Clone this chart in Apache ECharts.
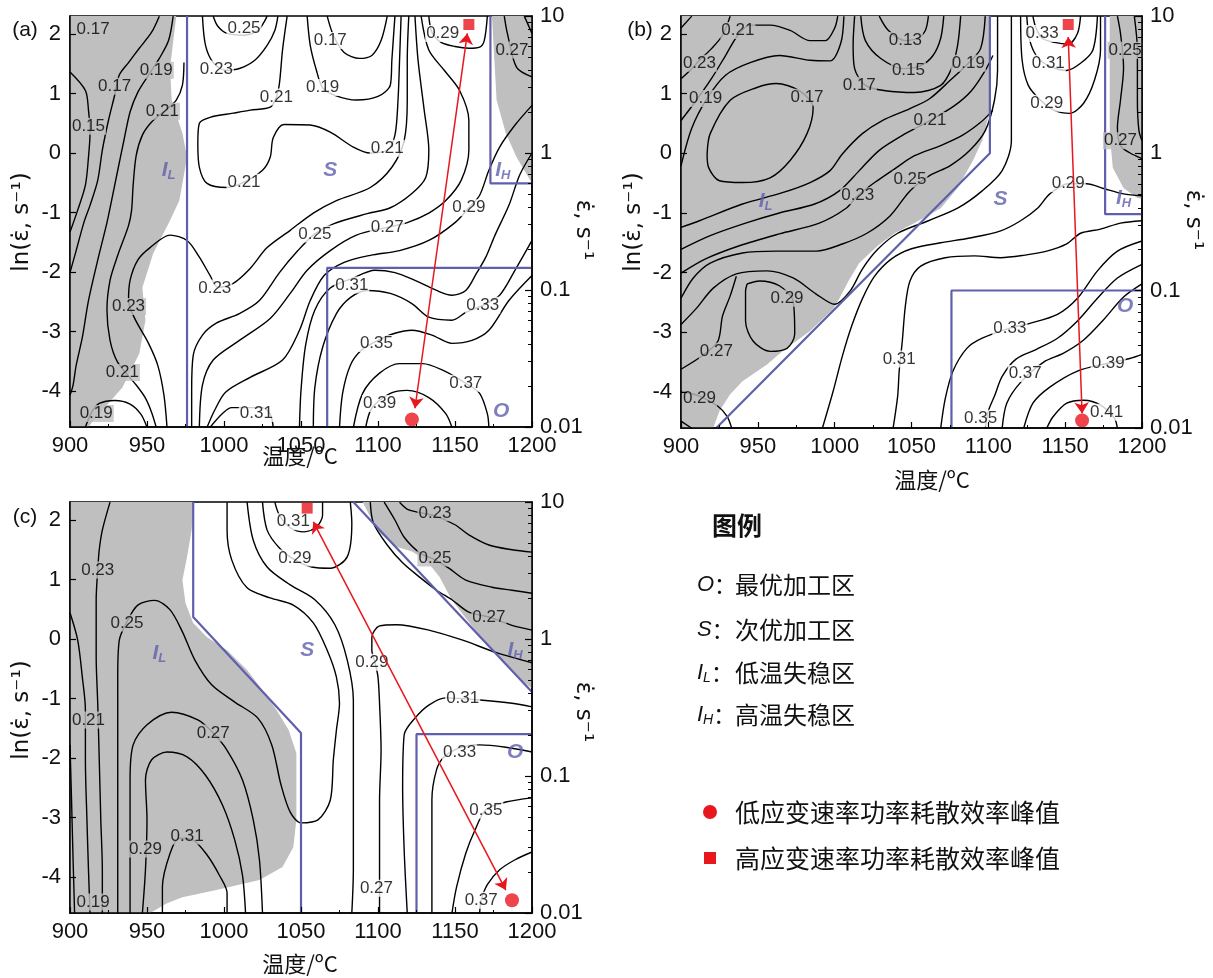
<!DOCTYPE html>
<html>
<head>
<meta charset="utf-8">
<script src="https://cdn.jsdelivr.net/npm/echarts@6/dist/echarts.min.js"></script>
<style>
html,body{margin:0;padding:0;background:#fff}
#chart{width:1213px;height:978px}
</style>
</head>
<body>
<div id="chart"></div>
<script>
// ---------- axes ----------
const LN_MIN = Math.log(0.01), LN_MAX = Math.log(10);
const lnTicks = [-4, -3, -2, -1, 0, 1, 2];
const rateTicks = [0.01, 0.1, 1, 10];
const rateLabels = ['0.01', '0.1', '1', '10'];
const rateMinor = [0.02,0.03,0.04,0.05,0.06,0.07,0.08,0.09,0.2,0.3,0.4,0.5,0.6,0.7,0.8,0.9,2,3,4,5,6,7,8,9];

// ---------- panel (a) : [T (°C), ln(rate)] ----------
const aGreyL = [[900,2.303],[969,2.303],[965,1.44],[966,0.89],[973,0.33],[976,-0.07],[971,-0.80],[965,-1.13],[954,-1.69],[947,-2.26],[949,-2.81],[945,-3.37],[934,-3.94],[915,-4.50],[912,-4.605],[900,-4.605]];
const aGreyH = [[1174,2.303],[1177,0.89],[1183,0.33],[1190,-0.07],[1200,-0.51],[1200,2.303]];
const aBounds = [
  [[976,2.303],[976,-4.605]],
  [[1173,2.303],[1173,-0.51],[1200,-0.51]],
  [[1200,-1.93],[1067,-1.93],[1067,-4.605]]
];
const aContours = [
  [[900,1.36],[910,1.05],[912,0.72],[913,0.33],[912,-0.07],[910,-0.54],[905,-0.96],[900,-1.33]],
  [[958,2.30],[953,2.03],[945,1.76],[938,1.52],[932,1.31],[929,0.97],[925,0.55],[921,0.05],[918,-0.46],[913,-0.88],[909,-1.17],[904,-1.64],[900,-2.01]],
  [[967,2.30],[964,1.89],[958,1.59],[951,1.31],[944,1.02],[939,0.69],[935,0.21],[931,-0.29],[927,-0.80],[924,-1.17],[918,-1.80],[912,-2.48],[908,-3.10],[904,-3.57],[902,-3.90],[900,-4.07]],
  [[974,1.52],[973,1.14],[969,0.89],[962,0.72],[953,0.52],[947,0.30],[943,-0.04],[941,-0.54],[940,-0.96],[938,-1.22],[931,-1.72],[926,-2.14],[924,-2.64],[926,-3.15],[931,-3.52],[943,-3.90],[949,-4.12],[953,-4.36],[956,-4.61]],
  [[910,-4.61],[914,-4.36],[919,-4.21],[929,-4.16],[939,-4.22],[946,-4.39],[950,-4.61]],
  [[963,-4.61],[961,-4.07],[957,-3.57],[951,-3.20],[942,-2.78],[938,-2.48],[939,-2.14],[944,-1.80],[952,-1.59],[965,-1.38],[976,-1.47],[984,-1.75],[991,-2.06],[996,-2.26],[1006,-2.19],[1017,-1.94],[1028,-1.59],[1043,-1.30],[1058,-1.01],[1073,-0.80],[1095,-0.58],[1109,-0.24],[1117,0.21],[1119,0.89],[1119,1.56],[1120,2.30]],
  [[993,2.30],[996,2.13],[1002,2.01],[1013,1.98],[1022,2.06],[1026,2.20],[1028,2.30]],
  [[986,2.30],[988,1.81],[993,1.52],[1001,1.39],[1010,1.42],[1020,1.56],[1028,1.81],[1033,2.06],[1035,2.30]],
  [[1041,2.30],[1038,1.73],[1036,1.17],[1034,0.94],[1030,0.77],[1017,0.72],[1006,0.67],[991,0.60],[984,0.50],[983,0.16],[984,-0.24],[989,-0.51],[1002,-0.58],[1013,-0.49],[1025,-0.29],[1030,-0.07],[1032,0.26],[1039,0.48],[1056,0.47],[1069,0.35],[1084,0.10],[1095,0.00],[1106,0.05],[1111,0.30],[1113,0.89],[1114,1.56],[1115,2.30]],
  [[1054,2.30],[1056,1.81],[1060,1.39],[1064,1.10],[1072,0.97],[1086,0.89],[1100,0.95],[1108,1.14],[1109,1.56],[1111,2.30]],
  [[1067,2.30],[1071,1.98],[1078,1.69],[1088,1.59],[1096,1.64],[1102,1.89],[1106,2.30]],
  [[1124,2.30],[1126,1.56],[1130,0.72],[1133,0.05],[1131,-0.41],[1122,-0.68],[1108,-0.92],[1093,-1.02],[1071,-1.19],[1059,-1.36],[1048,-1.64],[1036,-2.01],[1023,-2.48],[1010,-2.70],[995,-2.86],[986,-3.06],[980,-3.40],[979,-3.99],[979,-4.61]],
  [[1128,2.30],[1133,1.73],[1143,1.39],[1153,1.05],[1159,0.55],[1159,0.05],[1154,-0.46],[1144,-0.80],[1133,-1.01],[1119,-1.17],[1106,-1.25],[1086,-1.38],[1069,-1.64],[1054,-1.97],[1043,-2.36],[1030,-2.78],[1010,-3.15],[993,-3.48],[986,-3.90],[984,-4.61]],
  [[1133,2.30],[1135,2.03],[1141,1.86],[1150,1.79],[1159,1.76],[1166,1.78],[1169,1.89],[1171,2.30]],
  [[1200,0.80],[1189,0.47],[1179,0.10],[1172,-0.29],[1166,-0.71],[1159,-0.92],[1150,-1.17],[1133,-1.47],[1114,-1.64],[1095,-1.72],[1078,-1.84],[1065,-2.06],[1056,-2.48],[1049,-2.98],[1038,-3.48],[1017,-3.77],[1001,-4.02],[994,-4.32],[989,-4.61]],
  [[991,-4.61],[999,-4.38],[1005,-4.28],[1025,-4.28],[1030,-4.39],[1032,-4.61]],
  [[1049,-4.61],[1050,-3.99],[1053,-3.23],[1059,-2.64],[1069,-2.27],[1083,-2.11],[1098,-1.97],[1111,-2.01],[1124,-2.14],[1138,-2.31],[1148,-2.39],[1157,-2.31],[1164,-2.02],[1170,-1.75],[1176,-1.38],[1185,-0.88],[1192,-0.37],[1200,0.00]],
  [[1058,-4.61],[1059,-3.94],[1064,-3.27],[1073,-2.70],[1082,-2.43],[1093,-2.31],[1108,-2.36],[1122,-2.53],[1133,-2.76],[1148,-2.81],[1157,-2.68],[1168,-2.56],[1179,-2.39],[1189,-1.97],[1200,-1.47]],
  [[1075,-4.61],[1077,-4.04],[1082,-3.57],[1089,-3.32],[1100,-3.15],[1111,-3.03],[1122,-2.98],[1135,-3.06],[1148,-3.20],[1161,-3.15],[1172,-2.98],[1185,-2.48],[1200,-2.06]],
  [[1084,-4.61],[1090,-4.04],[1101,-3.70],[1114,-3.54],[1129,-3.54],[1142,-3.65],[1157,-3.87],[1166,-4.04],[1171,-4.38],[1172,-4.61]],
  [[1092,-4.61],[1096,-4.29],[1108,-4.04],[1119,-3.99],[1133,-4.11],[1144,-4.38],[1148,-4.61]],
  [[1182,2.30],[1184,2.01],[1190,1.44],[1200,1.28]],
  [[1195,2.30],[1200,2.01]]
];
const aLabGrey = [[915,2.08,'0.17'],[956,1.39,'0.19'],[929,1.12,'0.17'],[960,0.70,'0.21'],[912,0.45,'0.15'],[938,-2.58,'0.23'],[934,-3.69,'0.21'],[917,-4.38,'0.19'],[1187,1.73,'0.27']];
const aLabWhite = [[1013,2.10,'0.25'],[1069,1.89,'0.17'],[1142,2.01,'0.29'],[995,1.41,'0.23'],[1064,1.10,'0.19'],[1034,0.94,'0.21'],[1106,0.08,'0.21'],[1013,-0.49,'0.21'],[1159,-0.92,'0.29'],[1059,-1.36,'0.25'],[1106,-1.25,'0.27'],[994,-2.27,'0.23'],[1083,-2.22,'0.31'],[1168,-2.56,'0.33'],[1099,-3.20,'0.35'],[1157,-3.87,'0.37'],[1101,-4.21,'0.39'],[1021,-4.38,'0.31']];
const aRegions = [[964,-0.29,'I','L'],[1069,-0.29,'S',''],[1181,-0.29,'I','H'],[1180,-4.34,'O','']];
const aCircle = [1122,-4.48], aSquare = [1159,2.16], aArrow = [[1124,-4.29],[1158,2.01]];

// ---------- panel (b) ----------
const bGreyL = [[900,2.303],[1101,2.303],[1101,0.72],[1096,0.21],[1090,-0.12],[1080,-0.58],[1069,-0.92],[1052,-1.17],[1039,-1.34],[1028,-1.55],[1016,-1.84],[1009,-2.14],[1003,-2.44],[999,-2.61],[984,-2.98],[966,-3.32],[956,-3.54],[940,-3.82],[932,-4.04],[925,-4.32],[921,-4.605],[900,-4.605]];
const bGreyH = [[1179,2.303],[1179,0.33],[1181,-0.24],[1188,-0.58],[1197,-0.75],[1200,-0.76],[1200,2.303]];
const bBounds = [
  [[1101,2.303],[1101,0],[923,-4.605]],
  [[1176,2.303],[1176,-1.02],[1200,-1.02]],
  [[1076,-4.605],[1076,-2.30],[1200,-2.30]]
];
const bContours = [
  [[900,-1.24],[912,-1.13],[940,-0.85],[966,-0.66],[984,-0.49],[997,-0.29],[1005,-0.01],[1018,0.33],[1031,0.55],[1049,0.75],[1062,0.92],[1075,1.22],[1087,1.51],[1095,1.76],[1098,2.30]],
  [[900,-1.61],[919,-1.38],[942,-1.17],[964,-1.00],[987,-0.85],[1003,-0.63],[1016,-0.29],[1029,0.05],[1046,0.33],[1062,0.55],[1078,0.80],[1089,1.05],[1098,1.39],[1103,1.64]],
  [[900,-2.01],[916,-1.77],[938,-1.55],[964,-1.35],[990,-1.17],[1007,-0.93],[1015,-0.71],[1026,-0.49],[1039,-0.26],[1052,-0.04],[1069,0.13],[1083,0.30],[1095,0.52],[1103,0.72]],
  [[900,-2.43],[908,-2.09],[919,-1.84],[940,-1.67],[962,-1.64],[988,-1.64],[1005,-1.52],[1021,-1.34],[1036,-1.05],[1049,-0.63],[1062,-0.37],[1075,-0.21],[1088,0.05],[1098,0.38],[1104,0.89],[1106,1.39],[1106,2.30]],
  [[900,-2.87],[910,-2.60],[921,-2.26],[936,-2.02],[956,-1.97],[973,-2.09],[988,-2.36],[1000,-2.53],[1010,-2.31],[1018,-1.94],[1028,-1.61],[1041,-1.34],[1061,-1.13],[1080,-0.92],[1096,-0.63],[1109,-0.29],[1115,0.21],[1115,0.89],[1115,2.30]],
  [[943,-2.19],[951,-2.14],[964,-2.22],[973,-2.48],[974,-3.03],[969,-3.27],[958,-3.32],[947,-3.15],[942,-2.81],[942,-2.31],[943,-2.19]],
  [[900,-3.62],[914,-3.39],[924,-3.15],[927,-2.73],[932,-2.39],[936,-2.06]],
  [[900,-3.99],[912,-4.07],[924,-4.24],[930,-4.41],[933,-4.61]],
  [[900,-4.49],[907,-4.61]],
  [[900,-0.21],[907,0.42],[917,0.92],[929,1.31],[945,1.52],[964,1.64],[984,1.56],[997,1.55],[1004,1.85],[1006,2.30]],
  [[900,0.55],[910,0.89],[920,1.26],[929,1.64],[937,1.98],[945,2.15],[958,2.15],[971,2.06],[984,1.89],[994,1.89],[1000,2.10],[1002,2.30]],
  [[900,1.25],[907,1.42],[912,1.56],[920,1.76],[927,1.98],[932,2.30]],
  [[900,2.10],[907,2.30]],
  [[917,-0.01],[919,0.33],[932,0.89],[949,1.10],[962,1.17],[977,1.05],[986,0.77],[982,0.33],[971,-0.12],[958,-0.41],[940,-0.49],[925,-0.46],[918,-0.24],[917,-0.01]],
  [[1013,2.30],[1012,1.81],[1013,1.42],[1020,1.14],[1033,1.05],[1052,1.02],[1069,1.14],[1076,1.42],[1080,1.81],[1082,2.30]],
  [[1017,2.30],[1020,1.89],[1030,1.59],[1045,1.42],[1056,1.47],[1064,1.64],[1069,1.93],[1071,2.30]],
  [[1029,2.30],[1035,2.06],[1046,1.89],[1054,1.93],[1059,2.06],[1061,2.30]],
  [[1129,2.30],[1131,2.10],[1135,1.93],[1143,1.86],[1152,1.83],[1158,2.01],[1160,2.30]],
  [[1125,2.30],[1127,1.89],[1132,1.61],[1140,1.46],[1151,1.39],[1160,1.51],[1168,1.73],[1171,2.30]],
  [[1121,2.30],[1122,1.56],[1126,1.14],[1134,0.89],[1143,0.72],[1153,0.67],[1162,0.84],[1169,1.22],[1173,1.73],[1173,2.30]],
  [[1200,-0.71],[1188,-0.68],[1175,-0.59],[1164,-0.51],[1152,-0.51],[1140,-0.68],[1132,-0.92],[1121,-1.13],[1108,-1.30],[1088,-1.42],[1069,-1.50],[1050,-1.60],[1037,-1.77],[1026,-2.06],[1018,-2.44],[1011,-2.90],[1005,-3.40],[999,-3.99],[992,-4.61]],
  [[1038,-4.61],[1041,-4.07],[1042,-3.65],[1044,-3.15],[1046,-2.56],[1049,-2.14],[1056,-1.89],[1072,-1.75],[1091,-1.72],[1108,-1.75],[1123,-1.71],[1138,-1.64],[1151,-1.52],[1160,-1.34],[1173,-1.27],[1186,-1.17],[1200,-1.13]],
  [[1184,2.30],[1186,2.01],[1188,1.44],[1186,0.89],[1184,0.43],[1186,0.13],[1192,0.01],[1200,-0.09]],
  [[1195,2.30],[1197,1.73],[1197,0.89],[1198,0.38],[1200,0.21]],
  [[1069,-4.61],[1072,-4.11],[1077,-3.65],[1086,-3.27],[1096,-3.10],[1114,-2.93],[1127,-2.85],[1145,-2.70],[1158,-2.43],[1171,-1.97],[1184,-1.64],[1200,-1.47]],
  [[1098,-4.61],[1100,-4.32],[1104,-4.07],[1109,-3.74],[1118,-3.45],[1131,-3.29],[1145,-3.10],[1158,-2.81],[1171,-2.43],[1184,-2.09],[1200,-1.86]],
  [[1109,-4.61],[1112,-4.19],[1121,-3.84],[1136,-3.50],[1149,-3.35],[1162,-3.13],[1175,-2.79],[1188,-2.41],[1200,-2.19]],
  [[1123,-4.61],[1129,-4.19],[1140,-3.92],[1158,-3.65],[1178,-3.52],[1192,-3.44],[1200,-3.37]],
  [[1138,-4.61],[1142,-4.42],[1151,-4.19],[1162,-4.14],[1173,-4.22],[1182,-4.44],[1184,-4.61]]
];
const bLabGrey = [[937,2.06,'0.21'],[912,1.51,'0.23'],[916,0.92,'0.19'],[982,0.94,'0.17'],[1016,1.14,'0.17'],[1046,1.89,'0.13'],[1048,1.39,'0.15'],[1087,1.51,'0.19'],[1062,0.55,'0.21'],[1015,-0.71,'0.23'],[1049,-0.43,'0.25'],[969,-2.43,'0.29'],[923,-3.32,'0.27'],[912,-4.11,'0.29'],[1189,1.73,'0.25'],[1186,0.21,'0.27']];
const bLabWhite = [[1135,2.01,'0.33'],[1139,1.51,'0.31'],[1138,0.84,'0.29'],[1152,-0.51,'0.29'],[1042,-3.45,'0.31'],[1114,-2.93,'0.33'],[1124,-3.69,'0.37'],[1178,-3.52,'0.39'],[1095,-4.44,'0.35'],[1177,-4.34,'0.41']];
const bRegions = [[955,-0.80,'I','L'],[1108,-0.77,'S',''],[1188,-0.75,'I','H'],[1189,-2.56,'O','']];
const bCircle = [1161,-4.48], bSquare = [1152,2.16], bArrow = [[1161,-4.36],[1152,1.95]];

// ---------- panel (c) ----------
const cGreyL = [[900,2.303],[980,2.303],[979,1.83],[976,1.38],[973,0.99],[975,0.60],[980,0.27],[989,0.03],[1002,-0.19],[1015,-0.52],[1025,-0.86],[1034,-1.19],[1042,-1.53],[1047,-1.92],[1047,-3.04],[1045,-3.50],[1038,-3.83],[1023,-4.05],[995,-4.22],[973,-4.34],[963,-4.44],[952,-4.605],[900,-4.605]];
const cGreyH = [[1090,2.303],[1095,2.05],[1101,1.78],[1112,1.55],[1122,1.47],[1131,1.33],[1140,1.04],[1148,0.65],[1158,0.32],[1168,-0.02],[1179,-0.31],[1189,-0.61],[1200,-0.83],[1200,2.303]];
const cBounds = [
  [[980,2.303],[980,0.37],[1050,-1.58],[1050,-4.605]],
  [[1084,2.303],[1200,-0.89]],
  [[1125,-4.605],[1125,-1.60],[1200,-1.60]]
];
const cContours = [
  [[900,-1.78],[901,-2.71],[902,-3.71],[903,-4.61]],
  [[900,0.44],[905,-0.02],[908,-0.64],[910,-1.19],[910,-2.03],[911,-3.04],[912,-3.88],[913,-4.61]],
  [[926,2.30],[921,1.83],[919,1.50],[918,1.16],[917,0.66],[917,-0.30],[918,-1.08],[919,-2.03],[920,-3.04],[921,-3.88],[921,-4.61]],
  [[931,-4.61],[931,-3.55],[931,-2.37],[931,-1.41],[931,-0.64],[932,-0.02],[937,0.29],[944,0.57],[955,0.65],[965,0.49],[973,0.12],[981,-0.35],[992,-0.77],[1007,-1.06],[1022,-1.33],[1031,-1.78],[1037,-2.45],[1043,-2.91],[1050,-3.09],[1061,-3.04],[1069,-2.71],[1071,-2.03],[1073,-1.53],[1075,-1.08],[1073,-0.64],[1067,-0.19],[1058,0.27],[1045,0.57],[1030,0.69],[1015,0.86],[1005,1.33],[1002,1.83],[1002,2.30]],
  [[939,-4.61],[939,-3.55],[939,-2.37],[941,-1.78],[950,-1.44],[966,-1.23],[983,-1.36],[993,-1.58],[1002,-1.87],[1012,-2.37],[1019,-3.04],[1023,-3.71],[1025,-4.61]],
  [[947,-4.61],[949,-3.88],[950,-3.04],[949,-2.37],[953,-2.03],[963,-1.90],[976,-1.98],[988,-2.29],[999,-2.79],[1007,-3.38],[1012,-3.97],[1014,-4.61]],
  [[960,-4.61],[960,-4.17],[965,-3.60],[971,-3.35],[980,-3.38],[989,-3.63],[997,-3.97],[1002,-4.27],[1002,-4.61]],
  [[1033,2.30],[1036,2.08],[1043,1.87],[1052,1.80],[1060,1.88],[1064,2.08],[1064,2.30]],
  [[1025,2.30],[1028,1.83],[1036,1.53],[1046,1.33],[1057,1.21],[1069,1.19],[1080,1.38],[1083,1.95],[1082,2.30]],
  [[1015,2.30],[1019,1.66],[1028,1.21],[1043,0.91],[1059,0.66],[1072,0.24],[1080,-0.35],[1084,-1.03],[1084,-2.03],[1084,-3.04],[1084,-3.88],[1083,-4.61]],
  [[1114,2.30],[1120,2.17],[1137,2.07],[1150,1.92],[1159,1.75],[1172,1.58],[1187,1.50],[1200,1.46]],
  [[1104,2.30],[1111,2.00],[1117,1.71],[1127,1.45],[1137,1.33],[1146,1.19],[1157,0.99],[1174,0.87],[1187,0.82],[1200,0.77]],
  [[1095,2.30],[1097,1.95],[1106,1.58],[1116,1.28],[1127,1.04],[1138,0.82],[1148,0.66],[1159,0.45],[1172,0.37],[1187,0.23],[1200,0.15]],
  [[1200,-0.40],[1177,-0.23],[1155,-0.02],[1133,0.15],[1112,0.24],[1101,0.22],[1096,0.03],[1096,-0.19],[1098,-0.39],[1100,-0.64],[1101,-1.08],[1102,-1.87],[1101,-2.71],[1101,-3.55],[1101,-4.17],[1101,-4.61]],
  [[1200,-1.14],[1187,-1.08],[1168,-1.03],[1144,-0.99],[1133,-1.11],[1124,-1.33],[1117,-1.61],[1116,-2.49],[1117,-3.55],[1119,-4.61]],
  [[1200,-1.90],[1183,-1.82],[1166,-1.78],[1153,-1.83],[1143,-1.98],[1138,-2.20],[1135,-2.71],[1135,-3.55],[1135,-4.05],[1135,-4.61]],
  [[1200,-2.67],[1183,-2.74],[1170,-2.87],[1163,-3.21],[1157,-3.60],[1151,-4.17],[1148,-4.61]],
  [[1200,-3.58],[1189,-3.71],[1179,-3.88],[1171,-4.13],[1167,-4.39],[1166,-4.61]]
];
const cLabGrey = [[918,1.16,'0.23'],[937,0.27,'0.25'],[912,-1.36,'0.21'],[993,-1.58,'0.27'],[949,-3.53,'0.29'],[976,-3.31,'0.31'],[915,-4.42,'0.19'],[1137,2.12,'0.23'],[1137,1.36,'0.25'],[1172,0.37,'0.27']];
const cLabWhite = [[1045,1.97,'0.31'],[1046,1.36,'0.29'],[1096,-0.39,'0.29'],[1155,-1.00,'0.31'],[1153,-1.91,'0.33'],[1170,-2.88,'0.35'],[1099,-4.19,'0.27'],[1167,-4.39,'0.37']];
const cRegions = [[958,-0.24,'I','L'],[1054,-0.19,'S',''],[1189,-0.19,'I','H'],[1189,-1.90,'O','']];
const cCircle = [1187,-4.39], cSquare = [1054,2.20], cArrow = [[1183,-4.22],[1058,1.97]];

// ---------- legend text ----------
const legendKeys = [['O',''],['S',''],['I','L'],['I','H']];
const legendNames = ['最优加工区','次优加工区','低温失稳区','高温失稳区'];
const peakNames = ['低应变速率功率耗散效率峰值','高应变速率功率耗散效率峰值'];

// ---------- styles ----------
const FONT = '"Liberation Sans", Arial, sans-serif';
const CJK = '"Noto Sans CJK SC", sans-serif';
const PURPLE = '#5f5fae';
const RED = '#e8171e';
const GREY = '#bfbfbf';

const grids = [
  {left:70, top:16, width:462, height:411},
  {left:681, top:16, width:461, height:412},
  {left:70, top:502, width:462, height:411}
];

const rateLn = rateTicks.map(Math.log);
const minorLn = rateMinor.map(Math.log);
const fmtLn = v => { const r = Math.round(v); return Math.abs(v - r) < 1e-6 ? String(r) : ''; };
const fmtRate = v => { const i = rateLn.findIndex(r => Math.abs(r - v) < 1e-6); return i >= 0 ? rateLabels[i] : ''; };

const xAxis = [], yAxis = [], series = [];
grids.forEach((g, k) => {
  xAxis.push({
    type:'value', gridIndex:k, min:900, max:1200, interval:50, z:10,
    axisLine:{onZero:false, lineStyle:{color:'#000', width:1.5}},
    axisTick:{inside:true, length:6, lineStyle:{color:'#000', width:1.2}},
    minorTick:{show:true, splitNumber:2, length:3, lineStyle:{color:'#000'}},
    splitLine:{show:false},
    axisLabel:{color:'#111', fontSize:22, fontFamily:FONT, margin:8, formatter:v => String(v)}
  });
  const base = {type:'value', gridIndex:k, min:LN_MIN, max:LN_MAX, z:10, splitLine:{show:false}};
  yAxis.push(Object.assign({}, base, {
    position:'left',
    axisLine:{show:true, onZero:false, lineStyle:{color:'#000', width:1.5}},
    axisTick:{show:true, inside:true, length:6, customValues:lnTicks, lineStyle:{color:'#000', width:1.2}},
    axisLabel:{customValues:lnTicks, formatter:fmtLn, color:'#111', fontSize:22, fontFamily:FONT, margin:9}
  }));
  yAxis.push(Object.assign({}, base, {
    position:'right',
    axisLine:{show:true, onZero:false, lineStyle:{color:'#000', width:1.5}},
    axisTick:{show:true, inside:true, length:7, customValues:rateLn, lineStyle:{color:'#000', width:1.2}},
    axisLabel:{customValues:rateLn, formatter:fmtRate, color:'#111', fontSize:22, fontFamily:FONT, margin:8}
  }));
  yAxis.push(Object.assign({}, base, {
    position:'right', offset:0,
    axisLine:{show:false, onZero:false},
    axisTick:{show:true, inside:true, length:4, customValues:minorLn, lineStyle:{color:'#000', width:1}},
    axisLabel:{show:false}
  }));
});

function addPanel(k, greys, bounds, contours, labGrey, labWhite, regions, circle, square, arrow) {
  const ax = {xAxisIndex:k, yAxisIndex:3 * k, animation:false, silent:true};
  greys.forEach(poly => series.push(Object.assign({
    type:'custom', z:1, clip:true, data:[poly[0]], encode:{x:0, y:1},
    renderItem:(params, api) => ({type:'polygon', shape:{points:poly.map(p => api.coord(p))}, style:{fill:GREY}})
  }, ax)));
  contours.forEach(pts => series.push(Object.assign({
    type:'line', data:pts, smooth:0.3, symbol:'none', z:3, clip:true,
    lineStyle:{color:'#000', width:1.4}
  }, ax)));
  bounds.forEach(pts => series.push(Object.assign({
    type:'line', data:pts, symbol:'none', z:4, clip:true,
    lineStyle:{color:PURPLE, width:2.2}
  }, ax)));
  [[labGrey, GREY], [labWhite, '#fff']].forEach(([arr, bg]) => series.push(Object.assign({
    type:'scatter', data:arr, symbolSize:1, itemStyle:{color:'rgba(0,0,0,0)'}, z:5, encode:{x:0, y:1},
    label:{show:true, position:'inside', formatter:p => p.data[2], color:'#000', fontSize:17,
      fontFamily:FONT, backgroundColor:bg, padding:[0, 1]}
  }, ax)));
  series.push(Object.assign({
    type:'scatter', data:regions, symbolSize:1, itemStyle:{color:'rgba(0,0,0,0)'}, z:6, encode:{x:0, y:1},
    label:{show:true, position:'inside',
      formatter:p => p.data[3] ? `{it|${p.data[2]}}{sb|${p.data[3]}}` : `{it|${p.data[2]}}`,
      rich:{
        it:{fontStyle:'italic', fontWeight:'bold', fontSize:21, lineHeight:24, color:PURPLE, fontFamily:FONT},
        sb:{fontStyle:'italic', fontWeight:'bold', fontSize:13, lineHeight:12, color:PURPLE, fontFamily:FONT, verticalAlign:'bottom'}
      }}
  }, ax));
  series.push(Object.assign({
    type:'lines', coordinateSystem:'cartesian2d', z:7,
    symbol:['arrow', 'arrow'], symbolSize:11,
    lineStyle:{color:RED, width:1.5, curveness:0, opacity:1},
    data:[{coords:arrow}]
  }, ax));
  series.push(Object.assign({type:'scatter', data:[circle], symbol:'circle', symbolSize:14, itemStyle:{color:RED}, z:8}, ax));
  series.push(Object.assign({type:'scatter', data:[square], symbol:'rect', symbolSize:11, itemStyle:{color:RED}, z:8}, ax));
}

addPanel(0, [aGreyL, aGreyH], aBounds, aContours, aLabGrey, aLabWhite, aRegions, aCircle, aSquare, aArrow);
addPanel(1, [bGreyL, bGreyH], bBounds, bContours, bLabGrey, bLabWhite, bRegions, bCircle, bSquare, bArrow);
addPanel(2, [cGreyL, cGreyH], cBounds, cContours, cLabGrey, cLabWhite, cRegions, cCircle, cSquare, cArrow);

// ---------- text decorations ----------
function txt(x, y, text, font, extra) {
  const el = {
    type:'text', x:x, y:y, z:20,
    style:Object.assign({text:text, font:font, fill:'#111', align:'center', verticalAlign:'middle',
      textAlign:'center', textVerticalAlign:'middle'}, (extra && extra.style) || {})
  };
  if (extra && extra.rotation !== undefined) el.rotation = extra.rotation;
  return el;
}
const graphic = [];
const titleFont = '23px "DejaVu Sans", sans-serif';
[['(a)', 25, 30], ['(b)', 640, 30], ['(c)', 25, 517]].forEach(([t, x, y]) => graphic.push(txt(x, y, t, '21px ' + FONT)));
[[300, 456], [932, 480], [300, 964]].forEach(([x, y]) => graphic.push(txt(x, y, '温度/ºC', '22px ' + CJK)));
[[22, 222], [634, 222], [22, 710]].forEach(([x, y]) => graphic.push(txt(x, y, 'ln(ε̇, s⁻¹)', titleFont, {rotation:Math.PI / 2})));
[[583, 230], [1193, 220], [583, 712]].forEach(([x, y]) => graphic.push(txt(x, y, 'ε̇, s⁻¹', titleFont, {rotation:-Math.PI / 2})));

graphic.push(txt(712, 525, '图例', 'bold 25px ' + CJK, {style:{align:'left', textAlign:'left'}}));
const legY = [585, 630, 673, 715];
legendKeys.forEach((kk, i) => {
  const rich = {
    it:{fontStyle:'italic', fontSize:22, lineHeight:24, fill:'#111', fontFamily:FONT},
    sb:{fontStyle:'italic', fontSize:14, lineHeight:12, fill:'#111', fontFamily:FONT, verticalAlign:'bottom'},
    n:{fontSize:22, lineHeight:24, fill:'#111', fontFamily:CJK}
  };
  const t = kk[1] ? `{it|${kk[0]}}{sb|${kk[1]}}{n|：}` : `{it|${kk[0]}}{n|：}`;
  graphic.push({type:'text', x:697, y:legY[i], z:20, style:{text:t, rich:rich, align:'left', verticalAlign:'middle', textAlign:'left', textVerticalAlign:'middle'}});
  graphic.push(txt(735, legY[i], legendNames[i], '24px ' + CJK, {style:{align:'left', textAlign:'left'}}));
});
graphic.push({type:'circle', shape:{cx:710, cy:812, r:7}, style:{fill:RED}, z:20});
graphic.push({type:'rect', shape:{x:704, y:852, width:12, height:12}, style:{fill:RED}, z:20});
graphic.push(txt(735, 812, peakNames[0], '25px ' + CJK, {style:{align:'left', textAlign:'left'}}));
graphic.push(txt(735, 858, peakNames[1], '25px ' + CJK, {style:{align:'left', textAlign:'left'}}));

const chart = echarts.init(document.getElementById('chart'));
chart.setOption({
  animation:false,
  backgroundColor:'#fff',
  grid:grids.map(g => Object.assign({show:true, borderColor:'#000', borderWidth:1.5, backgroundColor:'transparent'}, g)),
  xAxis:xAxis,
  yAxis:yAxis,
  series:series,
  graphic:graphic
});
</script>
</body>
</html>
